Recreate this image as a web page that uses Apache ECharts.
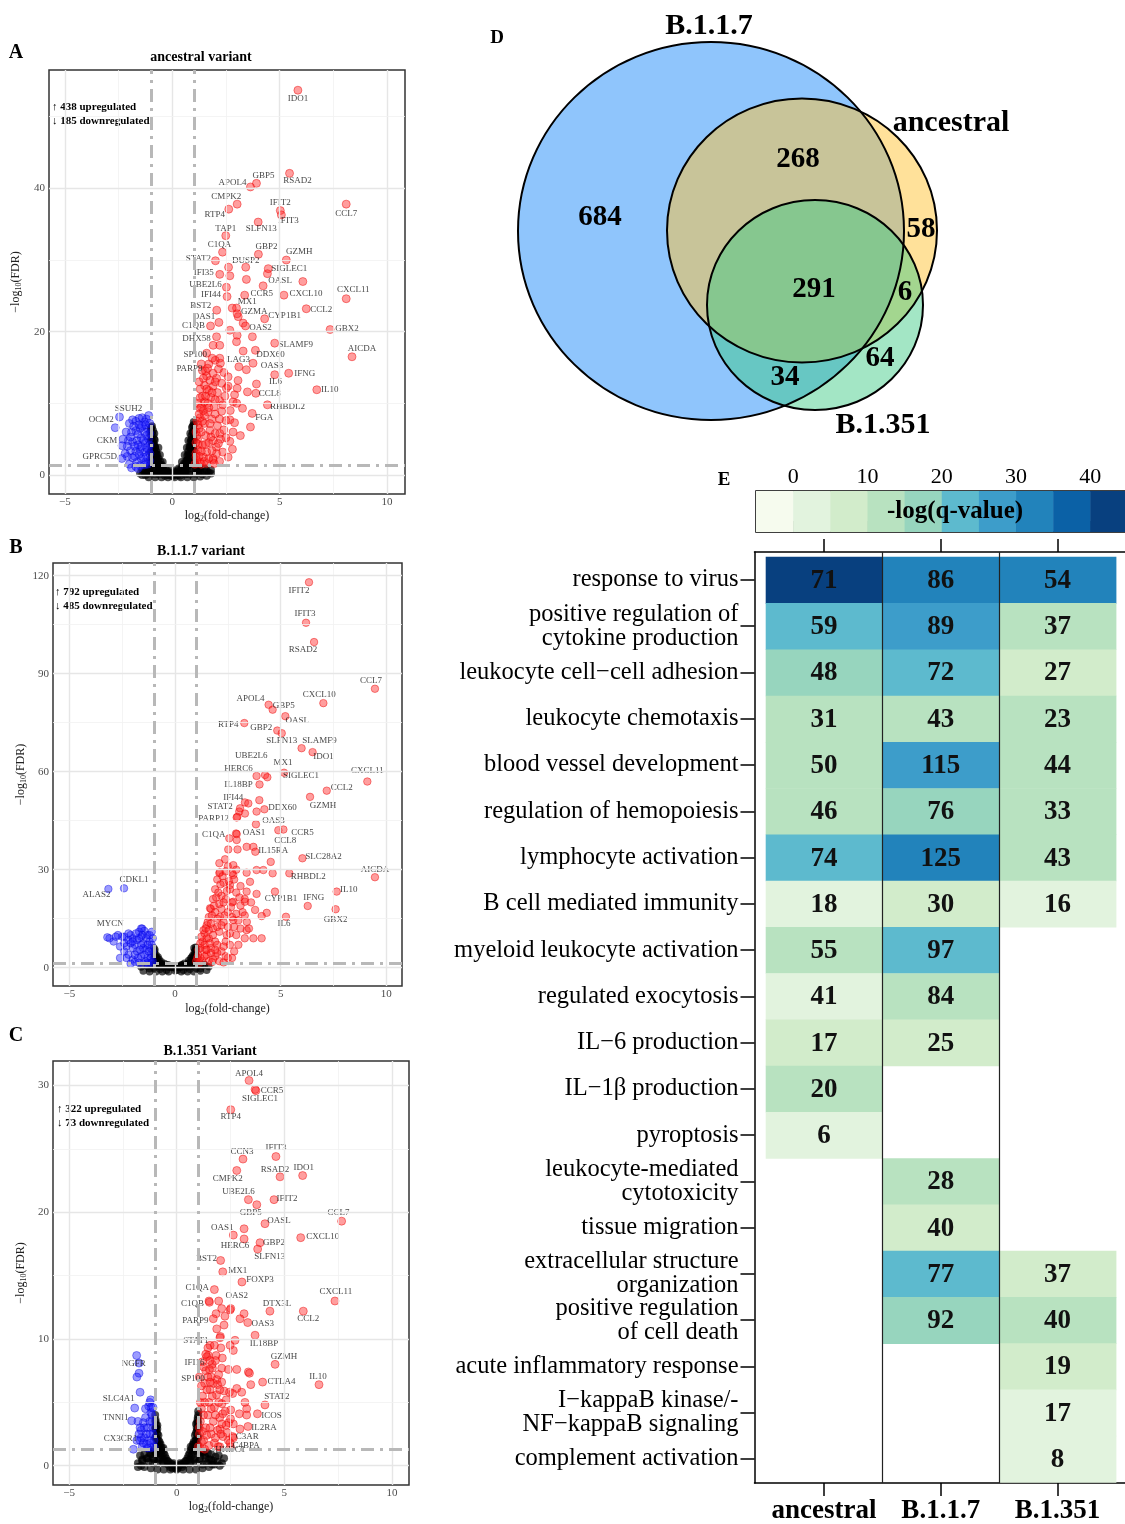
<!DOCTYPE html>
<html>
<head>
<meta charset="utf-8">
<script src="https://cdn.jsdelivr.net/npm/echarts@6/dist/echarts.min.js"></script>
<style>
  html, body { margin: 0; padding: 0; background: #fff; overflow: hidden; }
  #chart { width: 1125px; height: 1524px; }
</style>
</head>
<body>
<div id="chart"></div>
<script>
const SERIF = '"Liberation Serif", "Times New Roman", Times, serif';

// ---------- A: ancestral variant (log2FC, -log10 FDR) ----------
const aLabeled = [
  ['IDO1',5.85,53.7],['RSAD2',5.46,42.1],['GBP5',3.92,40.7],['APOL4',3.64,40.2],['CMPK2',3.02,37.8],
  ['RTP4',2.63,37.1],['IFIT2',5.03,36.9],['IFIT3',5.08,36.3],['CCL7',8.10,37.8],['SLFN13',4.00,35.3],
  ['TAP1',2.49,33.4],['C1QA',2.34,31.1],['GBP2',4.01,30.8],['GZMH',5.31,30.0],['STAT2',2.01,29.9],
  ['DUSP2',3.42,29.0],['SIGLEC1',4.47,28.8],['IFI35',2.21,28.0],['UBE2L6',2.52,26.2],['OASL',4.23,26.4],
  ['IFI44',2.55,24.9],['CCR5',3.37,25.1],['CXCL10',5.20,25.1],['CXCL11',8.10,24.6],['MX1',2.79,23.3],
  ['CCL2',6.24,23.2],['BST2',2.07,23.0],['GZMA',3.02,22.5],['CYP1B1',4.30,21.8],['OAS1',2.17,21.3],
  ['OAS2',3.41,20.8],['C1QB',1.78,20.8],['GBX2',7.35,20.3],['DHX58',2.06,19.3],['SLAMF9',4.77,18.4],
  ['DDX60',3.87,17.4],['AICDA',8.37,16.5],['SP100',1.86,16.3],['LAG3',2.24,15.6],['OAS3',3.76,15.6],
  ['PARP9',1.64,14.9],['IFNG',5.42,14.2],['IL10',6.73,11.9],['IL6',3.92,12.7],['CCL8',3.89,11.4],
  ['RHBDL2',4.43,9.8],['FGA',3.72,8.6],['SSUH2',-2.46,8.1],['OCM2',-2.66,6.6],['CKM',-2.34,4.1],
  ['GPRC5D',-2.35,2.3]
];
const aUp = [
  [2.62,29.0],[2.68,27.8],[3.45,27.3],[6.08,27.0],[4.43,28.1],[2.99,23.3],[3.07,22.1],[3.30,21.2],
  [2.68,20.2],[3.02,19.5],[3.73,19.3],[2.99,18.6],[1.90,18.1],[2.21,18.1],[3.30,17.3],[2.21,16.3],
  [3.10,15.1],[3.45,14.7],[4.77,14.0],[3.50,11.6],[3.27,9.3],[3.64,6.7],[3.17,5.5],[2.60,13.7],
  [3.06,13.2],[2.52,12.1],[3.02,12.1],[2.06,13.5],[2.83,10.2],[2.68,7.7],[2.83,6.0],[2.21,5.8],
  [2.68,4.7],[2.06,3.0],[1.90,2.1],
  [1.15,2.0],[1.20,3.5],[1.18,5.0],[1.25,6.5],[1.30,8.0],[1.35,9.5],[1.40,11.0],[1.50,12.5],
  [1.60,13.8],[1.75,13.2],[1.90,12.4],[2.00,13.0],[1.30,1.8],[1.45,2.5],[1.60,3.2],[1.70,4.5],
  [1.55,5.5],[1.40,4.2],[1.75,6.2],[1.50,7.2],[1.85,7.8],[1.65,8.8],[1.95,9.5],[1.50,10.2],
  [1.80,10.8],[2.10,11.5],[1.70,11.8],[2.20,10.4],[2.00,8.5],[2.30,8.9],[2.10,6.9],[2.40,6.3],
  [2.25,5.0],[2.50,5.2],[2.05,3.9],[2.35,3.2],[1.90,2.3],[2.20,1.9],[2.60,2.5],[2.80,3.6],
  [2.50,7.6],[2.70,9.0],[2.45,11.0],[2.30,12.8],[1.30,12.0],[1.20,10.0],[1.25,13.0],[1.40,14.6],
  [1.70,15.5],[2.00,16.0],[2.40,14.3],[2.60,12.4],[2.90,11.2],[3.00,10.0],[2.90,7.3],[1.15,7.5],
  [1.20,4.3],[1.35,1.5],[1.60,1.6],[1.90,4.8],[1.10,3.0],[1.10,6.0],
  [1.05,1.5],[1.10,2.5],[1.10,4.5],[1.15,5.5],[1.20,7.0],[1.25,8.5],[1.30,9.3],[1.30,10.8],
  [1.35,6.0],[1.40,7.5],[1.45,9.0],[1.50,8.3],[1.55,11.0],[1.60,12.0],[1.65,10.0],[1.70,9.4],
  [1.75,7.2],[1.80,5.3],[1.85,3.4],[1.55,4.3],[1.35,3.3],[1.25,2.6],[1.50,1.9],[1.70,2.3],
  [1.95,1.6],[2.00,5.8],[1.85,11.5],[1.45,13.5],[1.55,14.5],[1.90,14.2],[2.15,14.8],[1.35,15.5],
  [1.60,17.0],[2.20,7.8],[2.35,9.8],[2.15,4.4],[2.00,10.5]
];
const aDown = [
  [-1.05,2.0],[-1.10,3.5],[-1.10,5.0],[-1.15,6.5],[-1.20,7.8],[-1.30,7.4],[-1.40,8.0],[-1.55,7.9],
  [-1.70,7.5],[-1.85,7.7],[-2.00,7.2],[-1.30,6.0],[-1.50,6.5],[-1.70,6.2],[-1.90,6.0],[-2.15,6.0],
  [-1.25,4.5],[-1.45,5.2],[-1.65,4.8],[-1.85,4.6],[-2.05,4.8],[-1.30,3.2],[-1.50,3.6],[-1.70,3.3],
  [-1.95,3.4],[-2.10,2.6],[-1.25,1.8],[-1.45,2.3],[-1.65,1.8],[-1.85,2.4],[-2.00,1.5],[-1.15,1.5],
  [-1.90,1.0],[-2.30,5.0],[-2.20,3.0],[-1.60,0.9],
  [-1.05,3.0],[-1.05,4.2],[-1.05,5.8],[-1.05,7.2],[-1.10,8.3],[-1.20,2.6],[-1.20,3.8],[-1.20,5.5],
  [-1.25,7.0],[-1.35,2.5],[-1.35,4.8],[-1.40,6.8],[-1.45,4.0],[-1.55,2.9],[-1.55,7.0],[-1.60,4.2],
  [-1.60,5.7],[-1.75,2.6],[-1.75,4.0],[-1.80,6.8],[-1.95,5.3],[-2.10,4.0],[-1.30,1.4],[-1.50,1.3],[-1.70,1.2]
];
const aNs = [
  [-1.00,6.5],[-0.98,5.5],[-0.95,4.6],[-0.90,3.8],[-0.85,4.2],[-0.80,3.0],[-0.75,2.5],[-0.70,2.0],
  [-0.60,1.5],[-0.50,1.0],[-0.40,0.7],[-0.30,0.4],[-0.20,0.2],[-0.10,0.1],[-0.95,2.5],[-0.90,1.5],
  [-0.80,0.8],[-0.65,0.5],[-0.50,0.3],[-0.35,0.15],[-1.05,1.0],[-1.15,0.6],[-1.30,0.4],[-1.50,0.2],
  [-1.00,3.2],[-0.92,0.5],[0.10,0.1],[0.20,0.2],[0.30,0.4],[0.40,0.7],[0.50,1.0],[0.60,1.5],
  [0.70,2.1],[0.80,2.8],[0.85,3.8],[0.90,4.8],[0.95,6.0],[1.00,7.0],[0.98,5.2],[0.90,2.5],
  [0.80,1.5],[0.70,0.8],[0.55,0.4],[0.40,0.2],[0.95,1.2],[1.10,0.9],[1.30,0.6],[1.50,0.4],
  [1.70,0.3],[1.00,3.5],[0.00,0.05],[0.15,0.4],[-0.15,0.35],[0.65,0.2],[-0.70,0.3],[1.20,0.3],[-1.20,0.2],
  [-0.95,3.5],[-0.90,5.5],[-0.85,2.2],[-0.85,5.0],[-0.80,3.8],[-0.75,1.5],[-0.75,3.3],[-0.70,2.8],
  [-0.65,1.2],[-0.65,2.3],[-0.60,0.6],[-0.55,1.8],[-0.50,1.4],[-0.45,0.5],[-0.45,1.1],[-0.40,0.2],
  [-0.30,0.7],[-0.25,0.4],[-0.20,0.0],[-0.10,0.4],[-0.05,-0.1],[-0.35,-0.1],[-0.60,0.1],[-0.80,0.1],
  [-1.00,0.2],[-1.10,0.2],[-1.00,4.8],[-1.00,5.8],[-0.95,6.8],[-0.90,6.2],[-0.88,4.5],
  [0.05,-0.1],[0.10,0.4],[0.25,0.0],[0.30,0.7],[0.35,-0.1],[0.45,0.5],[0.45,1.2],[0.55,1.6],
  [0.60,0.6],[0.65,2.0],[0.65,1.1],[0.70,2.7],[0.75,1.7],[0.75,3.3],[0.80,2.1],[0.80,3.9],
  [0.85,2.9],[0.85,4.6],[0.90,3.5],[0.90,5.5],[0.95,4.2],[0.95,6.8],[1.00,4.8],[1.00,6.2],
  [0.60,0.1],[0.80,0.1],[1.00,0.2],[1.10,0.2],[1.40,0.1],[1.60,0.6],[1.80,0.2],[1.25,0.9],
  [-1.40,0.8],[-1.25,0.0],[1.00,2.5],[1.05,1.5],[-1.00,2.0],[-1.05,1.4],
  [-1.40,0.0],[-1.10,-0.3],[-0.80,-0.3],[-0.50,-0.3],[-0.20,-0.3],[0.10,-0.3],[0.40,-0.3],[0.70,-0.3],
  [1.00,-0.3],[1.30,-0.2],[1.60,-0.1],[-1.20,0.8],[-0.90,0.9],[-0.60,0.9],[-0.30,0.8],[0.00,0.7],
  [0.30,0.9],[0.60,0.9],[0.90,0.9],[1.20,0.8],[1.50,0.9],[1.80,0.7],[-0.95,1.8],[-0.70,1.9],
  [-0.45,1.8],[0.45,1.8],[0.70,1.9],[0.95,1.9],[-0.95,2.8],[-0.75,2.9],[-0.58,2.8],[0.58,2.8],
  [0.75,2.9],[0.95,2.9],[-0.97,3.9],[-0.80,3.9],[-0.65,3.8],[0.68,3.8],[0.82,3.9],[0.97,3.9],
  [-0.97,4.9],[-0.82,4.9],[0.75,4.8],[0.88,4.9],[0.98,4.9],[-0.95,5.9],[-0.84,5.8],[0.84,5.8],
  [0.96,5.9],[-0.97,6.6],[0.92,6.6],[1.00,7.4]
];

// ---------- B: B.1.1.7 variant ----------
const bLabeled = [
  ['IFIT2',6.34,118.0],['IFIT3',6.20,105.6],['RSAD2',6.58,99.7],['CCL7',9.46,85.4],['CXCL10',7.02,81.0],
  ['APOL4',4.43,80.5],['GBP5',4.62,79.0],['OASL',5.22,77.0],['RTP4',3.28,74.9],['GBP2',4.84,72.6],
  ['SLFN13',5.05,71.8],['SLAMF9',5.99,67.2],['IDO1',6.51,66.0],['SIGLEC1',5.16,59.7],['MX1',4.26,59.0],
  ['UBE2L6',4.37,58.3],['HERC6',3.86,58.7],['CXCL11',9.10,57.0],['IL18BP',4.00,56.1],['CCL2',7.18,54.2],
  ['GZMH',6.39,52.3],['IFI44',3.99,51.3],['STAT2',3.08,48.8],['DDX60',4.23,48.5],['PARP12',2.92,46.0],
  ['OAS3',3.86,47.8],['OAS1',3.83,43.9],['CCR5',5.13,42.3],['CCL8',4.89,42.1],['C1QA',2.92,40.9],
  ['IL15RA',3.80,35.5],['SLC28A2',6.03,33.5],['RHBDL2',5.41,28.9],['AICDA',9.46,27.7],['IL10',7.65,23.3],
  ['CYP1B1',4.73,23.3],['IFNG',6.28,18.9],['GBX2',7.60,17.9],['IL6',5.25,15.6],['CDKL1',-2.41,24.3],
  ['ALAS2',-3.15,24.1],['MYCN',-3.20,9.3]
];
const bUp = [
  [3.31,50.6],[3.47,50.3],[3.04,47.8],[3.31,47.2],[2.95,46.2],[2.89,41.1],[2.57,39.6],[2.92,39.1],
  [3.39,37.0],[3.71,37.0],[2.52,36.2],[2.96,36.2],[4.53,32.4],[2.37,33.2],[2.76,31.4],[3.39,29.1],
  [3.86,29.9],[4.18,29.9],[4.62,28.9],[2.13,29.2],[2.76,28.4],[3.55,26.3],[2.60,25.3],[3.39,23.3],
  [3.86,22.6],[2.76,20.2],[3.31,20.2],[3.79,17.7],[4.34,16.8],[4.10,15.8],[1.66,18.2],[2.13,15.6],
  [2.76,14.6],[3.71,9.0],[4.10,9.0],[3.39,11.5],
  [1.00,2.0],[1.10,4.0],[1.20,6.0],[1.30,8.0],[1.40,10.5],[1.50,13.0],[1.60,15.5],[1.70,18.0],
  [1.80,21.0],[1.90,24.0],[2.00,27.0],[2.10,29.0],[1.30,2.0],[1.50,4.0],[1.70,6.0],[1.60,9.0],
  [1.90,8.0],[1.80,12.0],[2.10,11.0],[2.00,15.0],[2.30,14.0],[2.20,18.0],[2.50,17.0],[2.40,21.0],
  [2.70,20.0],[2.60,24.0],[2.90,23.0],[2.30,26.0],[2.80,27.0],[3.10,25.0],[1.60,2.0],[1.90,3.5],
  [2.20,5.0],[2.00,7.0],[2.40,8.0],[2.60,10.5],[2.80,12.5],[3.00,14.5],[3.20,17.0],[3.30,21.0],
  [2.10,2.0],[2.50,3.0],[2.80,5.0],[3.00,7.0],[3.30,9.0],[3.50,12.0],[2.30,1.6],[1.20,3.0],
  [1.45,5.5],[1.15,1.5],[1.75,1.7],[2.70,15.5],[3.60,20.0],[3.40,14.0],[2.20,22.0],[1.90,17.0],
  [2.10,32.0],[2.50,31.0],
  [1.05,3.0],[1.10,5.5],[1.20,7.5],[1.25,9.5],[1.35,11.5],[1.45,12.0],[1.55,14.0],[1.40,7.0],
  [1.50,9.0],[1.60,11.5],[1.70,13.5],[1.75,16.0],[1.85,19.0],[1.95,21.5],[2.05,23.0],[2.15,25.5],
  [2.25,28.0],[2.40,29.5],[1.80,10.0],[2.00,12.5],[2.20,13.0],[2.35,16.0],[2.10,19.5],[2.30,20.0],
  [2.45,23.5],[2.55,26.5],[2.70,29.0],[2.90,30.0],[2.00,4.5],[2.30,6.5],[2.60,7.0],[2.50,12.5],
  [2.90,10.0],[3.10,12.0],[2.90,16.5],[3.10,19.0],[3.30,16.0],[2.40,3.5],[2.70,3.0],[1.40,3.5],
  [1.70,4.5],[1.80,2.5],[1.50,5.5],[1.90,5.5],[2.65,18.5],[2.45,10.0],[3.05,21.5],[1.65,7.5]
];
const bDown = [
  [-1.05,2.0],[-1.10,4.0],[-1.15,6.0],[-1.20,8.0],[-1.30,3.0],[-1.40,5.5],[-1.50,7.5],[-1.60,9.5],
  [-1.70,11.0],[-1.55,12.0],[-1.45,11.3],[-1.40,2.0],[-1.60,3.5],[-1.80,5.0],[-1.90,7.0],[-2.00,9.0],
  [-2.10,10.0],[-2.20,8.5],[-2.30,6.5],[-2.50,9.5],[-2.70,10.0],[-2.90,8.0],[-3.10,9.0],[-1.70,1.5],
  [-2.00,2.5],[-2.20,4.0],[-2.40,5.0],[-1.90,1.8],[-1.50,1.2],[-2.60,3.0],[-2.10,1.2],[-1.30,10.0],
  [-1.25,1.2],[-2.40,7.5],[-1.80,8.5],[-1.05,9.0],[-1.10,11.0],
  [-1.05,5.0],[-1.10,7.0],[-1.15,3.0],[-1.20,10.0],[-1.25,5.0],[-1.30,7.0],[-1.35,9.0],[-1.45,4.0],
  [-1.50,6.0],[-1.55,10.0],[-1.60,7.0],[-1.65,5.5],[-1.70,9.0],[-1.75,3.0],[-1.85,10.5],[-1.90,4.0],
  [-2.00,6.0],[-2.10,7.5],[-2.20,10.5],[-2.30,3.0],[-2.40,9.5],[-2.60,6.5],[-2.80,9.5],[-1.30,1.5],
  [-1.10,1.5],[-2.00,8.0],[-1.60,12.0]
];
const bNs = [
  [-1.00,4.5],[-0.95,3.5],[-0.90,2.7],[-0.80,2.0],[-0.70,1.4],[-0.60,1.0],[-0.50,0.6],[-0.40,0.3],
  [-0.30,0.2],[-0.20,0.1],[-0.10,0.05],[0.00,0.0],[0.10,0.05],[0.20,0.1],[0.30,0.25],[0.40,0.4],
  [0.50,0.7],[0.60,1.1],[0.70,1.6],[0.80,2.3],[0.90,3.2],[0.95,4.2],[1.00,5.5],[0.98,6.3],
  [-0.98,1.2],[-0.85,0.6],[-0.70,0.3],[0.70,0.3],[0.85,0.7],[0.95,1.5],[1.10,0.8],[1.30,0.5],
  [1.60,0.3],[-1.10,0.7],[-1.30,0.4],[-1.60,0.2],[-0.55,0.2],[0.55,0.2],[0.90,2.0],[-0.90,1.7],
  [-0.95,5.5],[-0.90,4.0],[-0.85,3.0],[-0.75,2.5],[-0.65,1.8],[-0.50,1.3],[-0.35,0.8],[-0.25,0.6],
  [-0.15,0.3],[0.15,0.3],[0.25,0.6],[0.35,0.9],[0.45,1.4],[0.65,2.2],[0.75,2.9],[0.85,3.8],
  [0.92,5.0],[0.98,4.0],[1.00,3.0],[-1.00,3.0],[-1.00,6.0],[0.10,-0.8],[0.40,-0.8],[0.70,-0.5],
  [-0.40,-0.8],[-0.70,-0.5],[-1.00,-0.2],[1.00,-0.2],[1.20,-0.3],[-1.20,-0.3],[0.00,-0.9],
  [-1.50,-1.0],[-1.20,-1.2],[-0.90,-1.2],[-0.60,-1.2],[-0.30,-1.2],[0.30,-1.2],[0.60,-1.2],[0.90,-1.2],
  [1.20,-1.0],[1.50,-0.8],[-1.20,1.0],[-0.90,1.0],[-0.60,0.9],[-0.30,0.8],[0.00,0.6],[0.30,0.8],
  [0.60,0.9],[0.90,1.0],[1.20,1.0],[1.40,1.0],[-0.95,3.4],[-0.80,3.3],[0.80,3.3],[0.95,3.4],
  [-0.98,5.0],[0.97,5.5],[0.90,6.0]
];

// ---------- C: B.1.351 variant ----------
const cLabeled = [
  ['APOL4',3.36,30.4],['CCR5',3.64,29.7],['SIGLEC1',3.68,29.6],['RTP4',2.51,28.1],['IFIT3',4.61,24.4],
  ['CCN3',3.08,24.2],['CMPK2',2.79,23.3],['RSAD2',4.80,22.8],['IDO1',5.85,22.9],['UBE2L6',3.33,21.0],
  ['IFIT2',4.52,21.0],['GBP5',3.72,20.6],['CCL7',7.66,19.3],['OASL',4.10,19.1],['OAS1',2.63,18.2],
  ['HERC6',3.13,17.9],['CXCL10',5.76,18.0],['GBP2',3.87,17.6],['SLFN13',3.76,17.1],['BST2',2.04,16.2],
  ['MX1',2.14,15.3],['FOXP3',3.03,14.5],['C1QA',1.75,13.9],['OAS2',2.51,12.4],['C1QB',1.52,12.9],
  ['DTX3L',4.33,12.2],['CXCL11',7.35,13.0],['CCL2',5.88,12.2],['PARP9',1.70,11.6],['OAS3',3.30,11.3],
  ['STAT1',2.01,10.1],['IL18BP',3.64,10.3],['GZMH',4.57,8.0],['IFI16',1.52,7.6],['SP100',1.55,6.6],
  ['IL10',6.61,6.4],['CTLA4',3.99,6.6],['STAT2',4.10,4.8],['ICOS',3.75,4.1],['IL2RA',3.31,3.1],
  ['C3AR',2.63,2.2],['C4BPA',2.48,1.8],['HKDC1',1.93,1.5],['NGFR',-1.86,8.7],['SLC4A1',-1.95,4.55],
  ['TNNI1',-2.09,3.55],['CX3CR1',-2.01,1.3]
];
const cUp = [
  [3.13,18.7],[2.48,12.3],[1.95,13.0],[1.50,13.0],[2.09,12.4],[2.24,11.8],[3.13,12.0],[2.94,11.6],
  [1.83,12.0],[2.20,11.1],[1.86,10.8],[2.03,10.2],[2.71,9.9],[2.48,9.5],[2.63,9.1],[1.55,9.5],
  [1.83,8.7],[2.12,8.5],[1.47,8.7],[1.66,7.7],[2.09,7.7],[2.40,7.6],[2.79,7.6],[3.33,7.4],
  [3.38,7.3],[3.44,6.4],[1.86,6.8],[2.09,6.6],[2.45,5.8],[2.79,6.1],[3.02,5.8],[2.60,5.7],
  [3.17,5.0],[3.25,4.5],[2.91,4.1],[2.51,4.4],[2.14,4.1],[2.63,3.3],[2.41,3.4],[2.94,2.9],
  [3.25,4.0],[2.01,2.9],
  [1.00,1.5],[1.05,2.5],[1.10,3.5],[1.15,4.5],[1.20,5.5],[1.30,6.5],[1.35,7.5],[1.25,2.0],
  [1.35,3.0],[1.45,4.0],[1.50,5.0],[1.55,6.0],[1.60,7.0],[1.50,1.6],[1.60,2.5],[1.70,3.5],
  [1.75,4.6],[1.85,5.6],[1.90,6.4],[1.75,1.8],[1.90,2.8],[2.00,3.8],[2.10,4.9],[2.20,5.9],
  [2.00,1.5],[2.15,2.3],[2.30,3.2],[2.40,2.0],[1.20,8.2],[1.40,8.6],[1.45,9.3],[1.10,1.4],
  [2.50,1.5],[1.30,1.3],[1.65,8.0],[1.80,8.3],[1.95,7.2],[2.05,9.3],
  [1.05,3.0],[1.10,5.0],[1.15,6.3],[1.20,2.7],[1.25,4.0],[1.30,5.0],[1.40,2.4],[1.40,6.0],
  [1.45,7.0],[1.55,3.0],[1.60,4.5],[1.65,5.5],[1.70,6.5],[1.80,2.2],[1.80,4.0],[1.95,5.0],
  [2.00,6.0],[2.05,2.5],[2.10,3.3],[2.25,4.3],[2.30,5.2],[2.35,2.6],[2.50,3.7],[2.60,2.3],
  [1.15,1.9],[1.05,7.0],[1.25,7.8],[1.35,8.8],[1.55,8.3],[1.75,9.5]
];
const cDown = [
  [-1.05,1.5],[-1.10,2.5],[-1.15,3.5],[-1.20,4.2],[-1.30,2.0],[-1.35,3.0],[-1.45,3.8],[-1.50,2.2],
  [-1.60,1.5],[-1.65,2.8],[-1.20,1.4],[-1.40,1.7],[-1.30,4.7],[-1.25,5.0],[-1.70,2.0],[-1.55,3.4],
  [-1.80,3.5],[-1.75,8.1],[-1.75,7.3],[-1.85,7.0],[-1.70,5.8],[-1.21,5.2],[-1.19,4.6],[-1.10,4.6],
  [-1.05,2.0],[-1.10,3.0],[-1.15,4.0],[-1.25,2.5],[-1.25,3.5],[-1.35,1.4],[-1.40,2.5],[-1.45,4.5],
  [-1.50,3.0],[-1.55,1.8],[-1.65,2.2],[-1.70,3.0],[-1.75,2.5],[-1.85,2.0],[-1.20,1.8]
];
const cNs = [
  [-1.00,4.0],[-0.95,3.2],[-0.90,2.5],[-0.80,1.9],[-0.70,1.4],[-0.60,1.0],[-0.50,0.6],[-0.40,0.35],
  [-0.30,0.2],[-0.20,0.1],[-0.10,0.03],[0.00,0.0],[0.10,0.03],[0.20,0.1],[0.30,0.2],[0.40,0.35],
  [0.50,0.6],[0.60,1.0],[0.70,1.4],[0.80,1.9],[0.90,2.6],[0.95,3.4],[1.00,4.3],[-1.05,1.2],
  [-1.20,0.9],[-1.40,0.6],[-1.60,0.4],[-1.80,0.2],[-0.95,1.0],[-0.80,0.5],[-0.65,0.3],[0.65,0.3],
  [0.80,0.5],[0.95,1.2],[1.10,1.0],[1.30,0.8],[1.50,0.5],[1.70,0.4],[1.90,0.3],[2.10,0.2],
  [0.90,1.8],[-0.90,1.7],
  [-0.98,3.6],[-0.95,2.8],[-0.92,2.1],[-0.90,3.2],[-0.85,2.4],[-0.85,1.4],[-0.80,1.0],[-0.75,1.7],
  [-0.70,0.8],[-0.65,1.2],[-0.55,0.8],[-0.45,0.4],[-0.40,0.1],[-0.30,-0.1],[-0.20,-0.2],[-0.15,0.2],
  [-0.05,-0.2],[0.05,-0.2],[0.15,0.2],[0.25,-0.1],[0.35,0.1],[0.45,0.4],[0.55,0.8],[0.65,1.2],
  [0.70,0.8],[0.75,1.7],[0.85,1.4],[0.85,2.4],[0.90,3.3],[0.92,2.1],[0.95,2.8],[0.98,3.8],
  [1.00,3.4],[1.00,2.2],[-1.00,3.0],[-1.00,2.2],[-1.05,0.5],[-1.10,0.2],[-1.30,0.3],[-1.50,0.9],
  [-1.70,0.8],[-1.65,0.0],[-1.25,1.0],[-0.90,0.2],[-0.60,0.2],[0.60,0.2],[0.90,0.2],[1.05,0.4],
  [1.20,0.1],[1.25,1.1],[1.40,0.2],[1.45,1.0],[1.60,0.9],[1.65,0.1],[1.80,0.7],[1.95,0.8],
  [2.00,0.0],[2.20,0.6],
  [-1.80,-0.1],[-1.50,-0.1],[-1.20,-0.2],[-0.90,-0.3],[-0.60,-0.3],[-0.30,-0.3],[0.00,-0.3],[0.30,-0.3],
  [0.60,-0.3],[0.90,-0.3],[1.20,-0.2],[1.50,-0.1],[1.75,0.1],[-1.60,0.5],[-1.35,0.6],[-1.10,0.6],
  [-0.85,0.6],[-0.60,0.5],[0.60,0.5],[0.85,0.6],[1.10,0.6],[1.35,0.6],[1.60,0.5],[-1.15,1.1],
  [-0.95,1.1],[-0.75,1.1],[0.75,1.1],[0.95,1.1],[1.15,1.1],[-0.95,1.7],[-0.80,1.7],[-0.62,1.4],
  [0.65,1.5],[0.80,1.7],[0.97,1.7],[-0.97,2.3],[-0.85,2.0],[0.88,2.0],[0.97,2.4],[-0.98,2.9],
  [-0.90,2.9],[0.93,3.0],[1.00,3.0],[-0.99,3.5],[0.97,3.6],[1.00,4.0]
];

// gene label nudges in pixels (layout only)
const aNudge = {IDO1:[0,8],RSAD2:[8,7],GBP5:[7,-8],APOL4:[-18,-4],CMPK2:[-11,-8],RTP4:[-14,5],IFIT2:[0,-8],
  IFIT3:[7,6],CCL7:[0,9],SLFN13:[3,7],TAP1:[0,-7],C1QA:[-3,-8],GBP2:[8,-8],GZMH:[13,-8],STAT2:[-17,-2],
  DUSP2:[0,-7],SIGLEC1:[21,0],IFI35:[-16,-2],UBE2L6:[-21,-3],OASL:[17,-5],IFI44:[-16,-2],CCR5:[17,-2],
  CXCL10:[22,-2],CXCL11:[7,-9],MX1:[15,-6],CCL2:[15,1],BST2:[-16,-5],GZMA:[17,-2],CYP1B1:[20,-3],
  OAS1:[-15,-6],OAS2:[15,2],C1QB:[-17,0],GBX2:[17,-1],DHX58:[-20,2],SLAMF9:[21,1],DDX60:[15,4],
  AICDA:[10,-8],SP100:[-17,-4],LAG3:[18,-4],OAS3:[19,2],PARP9:[-18,0],IFNG:[16,0],IL10:[13,0],
  IL6:[19,-2],CCL8:[14,0],RHBDL2:[20,2],FGA:[12,4],SSUH2:[9,-8],OCM2:[-14,-8],CKM:[-15,-5],GPRC5D:[-22,-2]};
const bNudge = {IFIT2:[-10,8],IFIT3:[-1,-9],RSAD2:[-11,8],CCL7:[-4,-8],CXCL10:[-4,-8],APOL4:[-18,-6],
  GBP5:[11,-4],OASL:[12,4],RTP4:[-16,2],GBP2:[-16,-3],SLFN13:[0,7],SLAMF9:[18,-8],IDO1:[11,5],
  SIGLEC1:[17,3],MX1:[18,-12],UBE2L6:[-16,-22],HERC6:[-18,-7],CXCL11:[0,-11],IL18BP:[-21,0],CCL2:[15,-3],
  GZMH:[13,9],IFI44:[-26,-3],STAT2:[-20,-2],DDX60:[18,-2],PARP12:[-23,1],OAS3:[17,9],OAS1:[-2,8],
  CCR5:[19,3],CCL8:[7,10],C1QA:[-23,1],IL15RA:[18,-1],SLC28A2:[21,-2],RHBDL2:[19,3],AICDA:[0,-8],
  IL10:[12,-2],CYP1B1:[6,7],IFNG:[6,-8],GBX2:[0,10],IL6:[-2,7],CDKL1:[10,-9],ALAS2:[-12,6],MYCN:[3,-14]};
const cNudge = {APOL4:[0,-7],CCR5:[17,1],SIGLEC1:[4,8],RTP4:[0,7],IFIT3:[0,-9],CCN3:[-1,-7],CMPK2:[-9,8],
  RSAD2:[-5,-7],IDO1:[1,-8],UBE2L6:[-10,-8],IFIT2:[13,-1],GBP5:[-6,8],CCL7:[-3,-9],OASL:[14,-3],
  OAS1:[-11,-7],HERC6:[-9,7],CXCL10:[22,-1],GBP2:[14,0],SLFN13:[12,8],BST2:[-14,-2],MX1:[15,-1],
  FOXP3:[18,-2],C1QA:[-17,-2],OAS2:[6,-13],C1QB:[-17,1],DTX3L:[7,-8],CXCL11:[1,-9],CCL2:[5,7],
  PARP9:[-18,2],OAS3:[15,1],STAT1:[-24,3],IL18BP:[9,8],GZMH:[9,-8],IFI16:[-15,-7],SP100:[-17,-3],
  IL10:[-1,-8],CTLA4:[19,0],STAT2:[12,-8],ICOS:[14,2],IL2RA:[16,1],C3AR:[14,-1],C4BPA:[16,3],
  HKDC1:[12,3],NGFR:[-3,8],SLC4A1:[-16,-9],TNNI1:[-16,-3],CX3CR1:[-13,-11]};

// ---------- D: Venn counts ----------
const vennSets = ['B.1.1.7', 'ancestral', 'B.1.351'];
const vennCounts = { b117Only: 684, b117Anc: 268, ancOnly: 58, all: 291, ancB1351: 6, b1351Only: 64, b117B1351: 34 };

// ---------- E: GO enrichment heatmap ----------
const goTerms = ['response to virus', 'positive regulation of\ncytokine production', 'leukocyte cell\u2212cell adhesion',
  'leukocyte chemotaxis', 'blood vessel development', 'regulation of hemopoiesis', 'lymphocyte activation',
  'B cell mediated immunity', 'myeloid leukocyte activation', 'regulated exocytosis', 'IL\u22126 production',
  'IL\u22121\u03b2 production', 'pyroptosis', 'leukocyte-mediated\ncytotoxicity', 'tissue migration',
  'extracellular structure\norganization', 'positive regulation\nof cell death', 'acute inflammatory response',
  'I\u2212kappaB kinase/-\nNF\u2212kappaB signaling', 'complement activation'];
const goVariants = ['ancestral', 'B.1.1.7', 'B.1.351'];
const countAncestral = [71, 59, 48, 31, 50, 46, 74, 18, 55, 41, 17, 20, 6, null, null, null, null, null, null, null];
const countB117 = [86, 89, 72, 43, 115, 76, 125, 30, 97, 84, 25, null, null, 28, 40, 77, 92, null, null, null];
const countB1351 = [54, 37, 27, 23, 44, 33, 43, 16, null, null, null, null, null, null, null, 37, 40, 19, 17, 8];
const qAncestral = [42.5, 22.5, 17.5, 12.5, 12.5, 12.5, 22.5, 2.5, 12.5, 2.5, 7.5, 12.5, 2.5, null, null, null, null, null, null, null];
const qB117 = [32.5, 27.5, 22.5, 12.5, 27.5, 17.5, 32.5, 7.5, 22.5, 12.5, 7.5, null, null, 12.5, 7.5, 22.5, 17.5, null, null, null];
const qB1351 = [32.5, 12.5, 7.5, 12.5, 12.5, 12.5, 12.5, 2.5, null, null, null, null, null, null, null, 7.5, 12.5, 7.5, 2.5, 2.5];
const qBandLo = [-5, 0, 5, 10, 15, 20, 25, 30, 35, 40];
const qBandColors = ['#F6FBEE', '#E2F3DE', '#D2ECCB', '#B8E2C0', '#97D5BE', '#5DBACE', '#3D9DCA', '#2283BB', '#0B61A6', '#08407F'];
const qTicks = [0, 10, 20, 30, 40];

// ----------------------------------------------------------------------
const fmtNum = v => (v < 0 ? '\u2212' + Math.abs(v) : String(v));
const RED = { color: 'rgba(255,35,35,0.55)', borderColor: 'rgba(235,0,0,0.55)', borderWidth: 1 };
const BLUE = { color: 'rgba(30,30,255,0.55)', borderColor: 'rgba(0,0,220,0.5)', borderWidth: 1 };
const BLACK = { color: 'rgba(0,0,0,0.85)' };

const panels = [
  { letter: 'A', title: 'ancestral variant', titleX: 201, titleY: 57, letterY: 53,
    box: [49, 70, 356, 424], xr: [-5.743, 10.838], yr: [-2.65, 56.52],
    yTicks: [0, 20, 40], yMinor: [10, 30, 50], up: 438, down: 185, noteX: 52, noteY: 107,
    xGap: 15, yGap: 26, sym: 8, labeled: aLabeled, nudge: aNudge, upPts: aUp, downPts: aDown, nsPts: aNs },
  { letter: 'B', title: 'B.1.1.7 variant', titleX: 201, titleY: 551, letterY: 548,
    box: [53, 563, 349, 423], xr: [-5.77, 10.74], yr: [-5.6, 123.9],
    yTicks: [0, 30, 60, 90, 120], yMinor: [15, 45, 75, 105], up: 792, down: 485, noteX: 55, noteY: 592,
    xGap: 16, yGap: 25, sym: 7.5, labeled: bLabeled, nudge: bNudge, upPts: bUp, downPts: bDown, nsPts: bNs },
  { letter: 'C', title: 'B.1.351 Variant', titleX: 210, titleY: 1051, letterY: 1036,
    box: [53, 1061, 356, 424], xr: [-5.745, 10.79], yr: [-1.52, 31.94],
    yTicks: [0, 10, 20, 30], yMinor: [5, 15, 25], up: 322, down: 73, noteX: 57, noteY: 1109,
    xGap: 15, yGap: 25, sym: 8, labeled: cLabeled, nudge: cNudge, upPts: cUp, downPts: cDown, nsPts: cNs }
];
const fcTicks = [-5, 0, 5, 10];
const fcMinor = [-2.5, 2.5, 7.5];

const grids = [], xAxes = [], yAxes = [], series = [], graphics = [];

function txt(x, y, text, font, align, extra) {
  graphics.push(Object.assign({
    type: 'text', x: x, y: y, silent: true,
    style: { text: text, font: font, fill: '#000', textAlign: align || 'center', textVerticalAlign: 'middle',
      align: align || 'center', verticalAlign: 'middle' }
  }, extra || {}));
}

const richName = {
  t: { fontFamily: SERIF, fontSize: 12, color: '#222' },
  s: { fontFamily: SERIF, fontSize: 8, color: '#222', verticalAlign: 'bottom', padding: [6, 0, 0, 0] }
};

panels.forEach((p, gi) => {
  grids.push({ left: p.box[0], top: p.box[1], width: p.box[2], height: p.box[3], show: true,
    backgroundColor: '#fff', borderColor: '#333', borderWidth: 1.5, containLabel: false, outerBoundsMode: 'none' });
  xAxes.push({ gridIndex: gi, type: 'value', min: p.xr[0], max: p.xr[1],
    axisLine: { show: false }, splitLine: { show: false },
    axisTick: { show: true, customValues: fcTicks, length: 3, lineStyle: { color: '#333' } },
    axisLabel: { customValues: fcTicks, formatter: fmtNum, fontFamily: SERIF, fontSize: 11, color: '#4d4d4d', margin: 3 },
    name: '{t|log}{s|2}{t|(fold-change)}', nameLocation: 'middle', nameGap: p.xGap,
    nameTextStyle: { rich: richName } });
  yAxes.push({ gridIndex: gi, type: 'value', min: p.yr[0], max: p.yr[1],
    axisLine: { show: false }, splitLine: { show: false },
    axisTick: { show: true, customValues: p.yTicks, length: 3, lineStyle: { color: '#333' } },
    axisLabel: { customValues: p.yTicks, formatter: fmtNum, fontFamily: SERIF, fontSize: 11, color: '#4d4d4d', margin: 4 },
    name: '{t|\u2212log}{s|10}{t|(FDR)}', nameLocation: 'middle', nameGap: p.yGap,
    nameTextStyle: { rich: richName } });

  const gridLines = [];
  fcTicks.forEach(v => gridLines.push({ xAxis: v, lineStyle: { color: '#e6e6e6', width: 1.4 } }));
  fcMinor.forEach(v => gridLines.push({ xAxis: v, lineStyle: { color: '#f1f1f1', width: 0.8 } }));
  p.yTicks.forEach(v => gridLines.push({ yAxis: v, lineStyle: { color: '#e6e6e6', width: 1.4 } }));
  p.yMinor.forEach(v => gridLines.push({ yAxis: v, lineStyle: { color: '#f1f1f1', width: 0.8 } }));
  series.push({ type: 'scatter', xAxisIndex: gi, yAxisIndex: gi, data: [], silent: true, z: 1,
    markLine: { silent: true, symbol: 'none', animation: false, label: { show: false },
      lineStyle: { type: 'solid' }, data: gridLines } });

  const base = { type: 'scatter', xAxisIndex: gi, yAxisIndex: gi, symbolSize: p.sym, silent: true, animation: false };
  series.push(Object.assign({}, base, { data: p.nsPts, itemStyle: BLACK, z: 2 }));
  series.push(Object.assign({}, base, { data: p.downPts, itemStyle: BLUE, z: 3 }));
  series.push(Object.assign({}, base, { data: p.upPts, itemStyle: RED, z: 3 }));
  series.push(Object.assign({}, base, { z: 4,
    data: p.labeled.map(g => ({ name: g[0], value: [g[1], g[2]], itemStyle: g[1] < 0 ? BLUE : RED,
      label: { offset: p.nudge[g[0]] || [0, -8] } })),
    label: { show: true, position: 'inside', formatter: '{b}', fontFamily: SERIF, fontSize: 9, color: '#111' } }));
  series.push({ type: 'scatter', xAxisIndex: gi, yAxisIndex: gi, data: [], silent: true, z: 6,
    markLine: { silent: true, symbol: 'none', animation: false, label: { show: false },
      lineStyle: { color: '#b8b8b8', width: 3, type: [13, 6, 3, 6] },
      data: [{ xAxis: -1 }, { xAxis: 1 }, { yAxis: 1.301 }] } });

  txt(16, p.letterY, p.letter, 'bold 20px ' + SERIF);
  txt(p.titleX, p.titleY, p.title, 'bold 14px ' + SERIF);
  txt(p.noteX, p.noteY, '\u2191 ' + p.up + ' upregulated', 'bold 11px ' + SERIF, 'left');
  txt(p.noteX, p.noteY + 14, '\u2193 ' + p.down + ' downregulated', 'bold 11px ' + SERIF, 'left');
});

// ---------- Venn (D) ----------
const vennShapes = [
  { cx: 711, cy: 231, rx: 193, ry: 189, fill: '#8FC5FC' },
  { cx: 802, cy: 230.5, rx: 135, ry: 132, fill: 'rgba(255,197,57,0.51)' },
  { cx: 815, cy: 305, rx: 108, ry: 105, fill: 'rgba(60,202,132,0.47)' }
];
vennShapes.forEach(e => graphics.push({ type: 'ellipse', silent: true, z: 1,
  shape: { cx: e.cx, cy: e.cy, rx: e.rx, ry: e.ry }, style: { fill: e.fill, stroke: null } }));
vennShapes.forEach(e => graphics.push({ type: 'ellipse', silent: true, z: 2,
  shape: { cx: e.cx, cy: e.cy, rx: e.rx, ry: e.ry }, style: { fill: 'none', stroke: '#000', lineWidth: 2 } }));
const vennNumFont = 'bold 29px ' + SERIF;
txt(600, 218, String(vennCounts.b117Only), vennNumFont, 'center', { z: 3 });
txt(798, 160, String(vennCounts.b117Anc), vennNumFont, 'center', { z: 3 });
txt(921, 230, String(vennCounts.ancOnly), vennNumFont, 'center', { z: 3 });
txt(814, 290, String(vennCounts.all), vennNumFont, 'center', { z: 3 });
txt(905, 293, String(vennCounts.ancB1351), vennNumFont, 'center', { z: 3 });
txt(880, 359, String(vennCounts.b1351Only), vennNumFont, 'center', { z: 3 });
txt(785, 378, String(vennCounts.b117B1351), vennNumFont, 'center', { z: 3 });
txt(709, 26, vennSets[0], 'bold 30px ' + SERIF, 'center', { z: 3 });
txt(951, 123, vennSets[1], 'bold 30px ' + SERIF, 'center', { z: 3 });
txt(883, 425, vennSets[2], 'bold 30px ' + SERIF, 'center', { z: 3 });
txt(497, 38, 'D', 'bold 19px ' + SERIF);
txt(724, 480, 'E', 'bold 19px ' + SERIF);

// ---------- colour bar ----------
const cbIdx = grids.length;
grids.push({ left: 756, top: 491, width: 371.5, height: 41, show: true, borderColor: '#000', borderWidth: 1.5,
  backgroundColor: 'transparent', containLabel: false, outerBoundsMode: 'none' });
xAxes.push({ gridIndex: cbIdx, type: 'value', position: 'top', min: -5, max: 45,
  axisLine: { show: false }, splitLine: { show: false },
  axisTick: { customValues: qTicks, length: 11, lineStyle: { color: '#000', width: 1.5 } },
  axisLabel: { customValues: qTicks, fontFamily: SERIF, fontSize: 22, color: '#000', margin: 3 } });
yAxes.push({ gridIndex: cbIdx, type: 'value', min: 0, max: 1, show: false });
series.push({ type: 'custom', xAxisIndex: cbIdx, yAxisIndex: cbIdx, silent: true, animation: false, z: 2,
  data: qBandLo.map((lo, i) => [lo, i]),
  renderItem: (params, api) => {
    const lo = api.value(0), i = api.value(1);
    const p0 = api.coord([lo, 1]), p1 = api.coord([lo + 5, 0]);
    return { type: 'rect', shape: { x: p0[0], y: p0[1], width: p1[0] - p0[0] + 0.5, height: p1[1] - p0[1] },
      style: { fill: qBandColors[i] } };
  } });
txt(955, 512, '-log(q-value)', 'bold 25px ' + SERIF, 'center', { z: 10 });

// ---------- heatmap ----------
function qColor(q) {
  for (let i = qBandLo.length - 1; i >= 0; i--) if (q >= qBandLo[i]) return qBandColors[i];
  return qBandColors[0];
}
const hmIdx = grids.length;
const hmCols = [countAncestral, countB117, countB1351];
const hmQ = [qAncestral, qB117, qB1351];
const hmData = [];
hmCols.forEach((col, ci) => col.forEach((n, ri) => {
  if (n != null) hmData.push([ci + 1, ri + 1, n, hmQ[ci][ri]]);
}));
grids.push({ left: 754.5, top: 552, width: 372.5, height: 931, show: false, containLabel: false, outerBoundsMode: 'none' });
const colTicks = [1, 2, 3];
const rowTicks = goTerms.map((t, i) => i + 1);
xAxes.push({ gridIndex: hmIdx, type: 'value', position: 'bottom', min: 0.404, max: 3.596,
  axisLine: { show: true, onZero: false, lineStyle: { color: '#000', width: 1.5 } }, splitLine: { show: false },
  axisTick: { customValues: colTicks, length: 13, lineStyle: { color: '#000', width: 1.5 } },
  axisLabel: { customValues: colTicks, formatter: v => goVariants[v - 1], fontFamily: SERIF, fontWeight: 'bold',
    fontSize: 27, color: '#000', margin: 15 } });
xAxes.push({ gridIndex: hmIdx, type: 'value', position: 'top', min: 0.404, max: 3.596,
  axisLine: { show: true, onZero: false, lineStyle: { color: '#000', width: 1.5 } }, splitLine: { show: false },
  axisTick: { customValues: colTicks, length: 13, lineStyle: { color: '#000', width: 1.5 } },
  axisLabel: { show: false } });
yAxes.push({ gridIndex: hmIdx, type: 'value', inverse: true, min: 0.395, max: 20.52,
  axisLine: { show: true, onZero: false, lineStyle: { color: '#000', width: 1.5 } }, splitLine: { show: false },
  axisTick: { customValues: rowTicks, length: 14, lineStyle: { color: '#000', width: 1.5 } },
  axisLabel: { customValues: rowTicks, formatter: v => goTerms[v - 1], fontFamily: SERIF, fontSize: 24.5,
    lineHeight: 24, color: '#000', margin: 16, align: 'right' } });
series.push({ type: 'custom', xAxisIndex: hmIdx, yAxisIndex: yAxes.length - 1, silent: true, animation: false, z: 2,
  data: hmData,
  renderItem: (params, api) => {
    const x = api.value(0), y = api.value(1), n = api.value(2), q = api.value(3);
    const p0 = api.coord([x - 0.5, y - 0.5]), p1 = api.coord([x + 0.5, y + 0.5]);
    const left = Math.min(p0[0], p1[0]), top = Math.min(p0[1], p1[1]);
    const w = Math.abs(p1[0] - p0[0]), h = Math.abs(p1[1] - p0[1]);
    return { type: 'group', children: [
      { type: 'rect', shape: { x: left, y: top, width: w + 0.6, height: h + 0.6 }, style: { fill: qColor(q) } },
      { type: 'text', x: left + w / 2, y: top + h / 2 + 1,
        style: { text: String(n), font: 'bold 27px ' + SERIF, fill: '#111', align: 'center', verticalAlign: 'middle',
          textAlign: 'center', textVerticalAlign: 'middle' } }
    ] };
  } });
series.push({ type: 'scatter', xAxisIndex: hmIdx, yAxisIndex: yAxes.length - 1, data: [], silent: true, z: 5,
  markLine: { silent: true, symbol: 'none', animation: false, label: { show: false },
    lineStyle: { color: '#222', width: 1.2, type: 'solid' }, data: [{ xAxis: 1.5 }, { xAxis: 2.5 }] } });

const chart = echarts.init(document.getElementById('chart'), null, { renderer: 'canvas' });
chart.setOption({
  backgroundColor: '#fff',
  animation: false,
  textStyle: { fontFamily: SERIF },
  grid: grids,
  xAxis: xAxes,
  yAxis: yAxes,
  series: series,
  graphic: { elements: graphics }
});
</script>
</body>
</html>
